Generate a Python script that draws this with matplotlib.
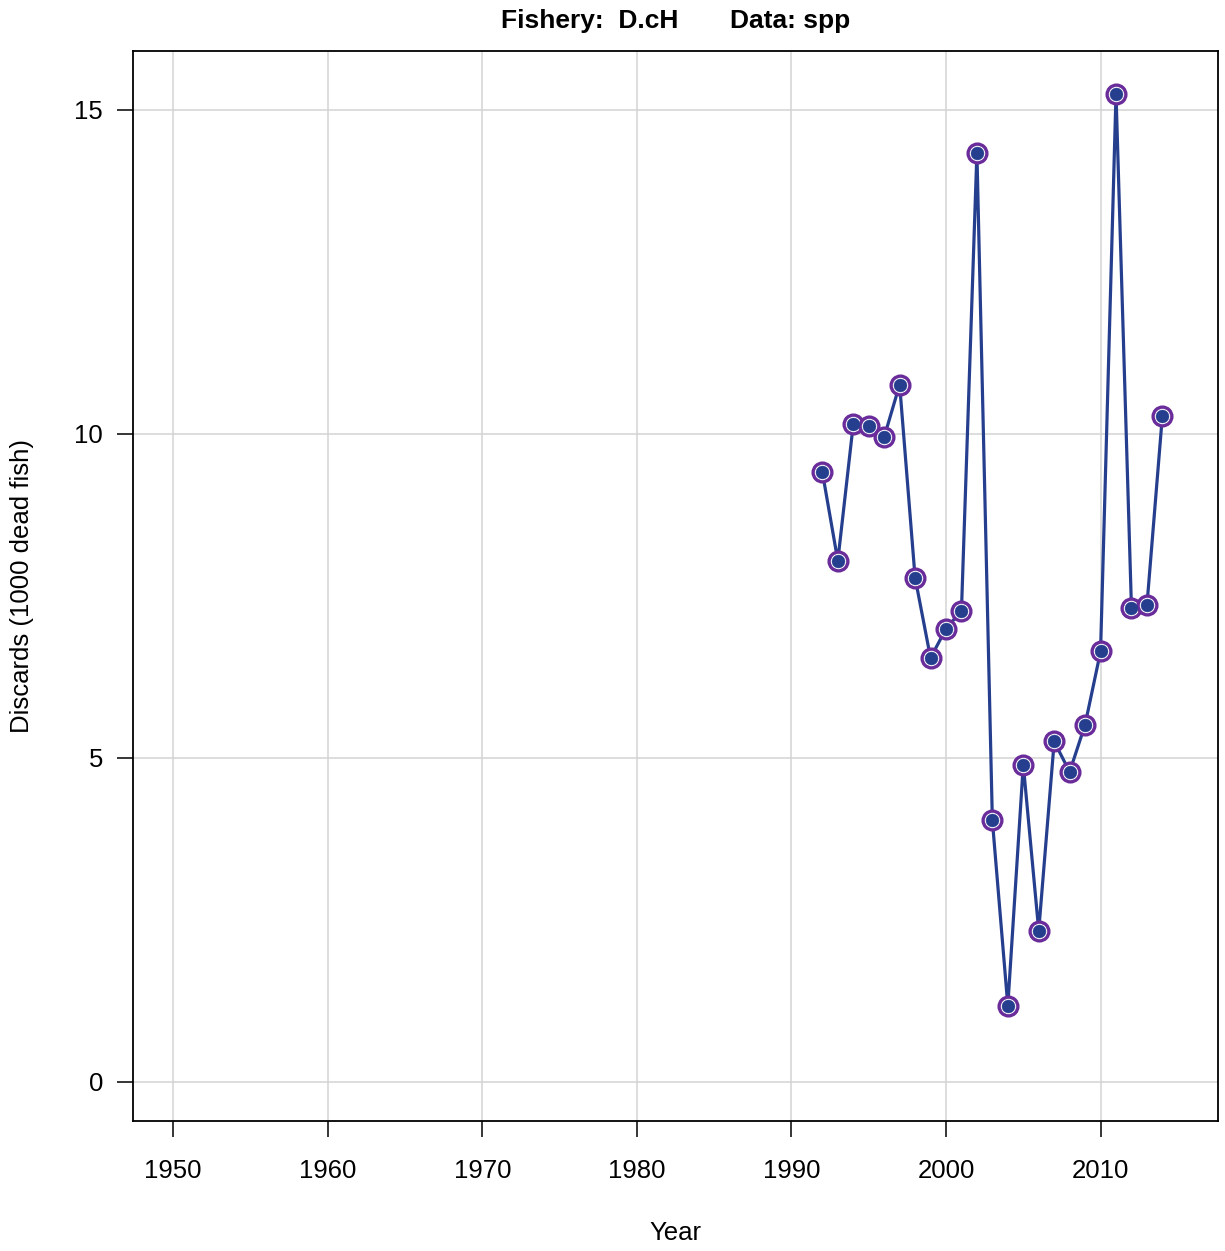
import matplotlib
matplotlib.use("Agg")
import matplotlib.pyplot as plt

# discards by year
years = [1992, 1993, 1994, 1995, 1996, 1997, 1998, 1999, 2000, 2001, 2002, 2003,
         2004, 2005, 2006, 2007, 2008, 2009, 2010, 2011, 2012, 2013, 2014]
discards = [9.41, 8.04, 10.15, 10.12, 9.95, 10.76, 7.78, 6.54, 6.99, 7.27, 14.34, 4.03,
            1.17, 4.89, 2.33, 5.25, 4.78, 5.51, 6.64, 15.25, 7.31, 7.35, 10.28]
x_ticks = [1950, 1960, 1970, 1980, 1990, 2000, 2010]
y_ticks = [0, 5, 10, 15]

plt.rcParams["font.family"] = ["Liberation Sans", "DejaVu Sans"]

line_col = "#253f8e"
ring_col = "#6a2c9a"
fs = 18.5

fig = plt.figure(figsize=(12.25, 12.51), dpi=100)
ax = fig.add_axes([0.1086, 0.1039, 0.8857, 0.8553])

ax.grid(True, color="#d3d3d3", linewidth=1.1)
ax.set_axisbelow(True)

ax.plot(years, discards, color=line_col, linewidth=2.3, zorder=3)
ax.plot(years, discards, linestyle="none", marker="o", markersize=13.5,
        markerfacecolor="white", markeredgecolor=ring_col, markeredgewidth=2.4, zorder=4)
ax.plot(years, discards, linestyle="none", marker="o", markersize=9.3,
        markerfacecolor=line_col, markeredgecolor=line_col, markeredgewidth=0.3, zorder=5)

ax.set_xlim(1947.4, 2017.6)
ax.set_ylim(-0.61, 15.91)
ax.set_xticks(x_ticks)
ax.set_yticks(y_ticks)
ax.tick_params(axis="both", labelsize=fs, length=11.5, width=1.1, color="black")
ax.tick_params(axis="x", pad=16)
ax.tick_params(axis="y", pad=10)
for s in ax.spines.values():
    s.set_linewidth(1.3)

fig.text(0.5514, 0.0144, "Year", ha="center", va="center", fontsize=fs)
fig.text(0.018, 0.5316, "Discards (1000 dead fish)", ha="center", va="center",
         rotation=90, fontsize=fs)
fig.text(0.5514, 0.983, "Fishery:  D.cH       Data: spp", ha="center", va="center",
         fontsize=19, fontweight="bold")

fig.savefig("out.png", dpi=100)
